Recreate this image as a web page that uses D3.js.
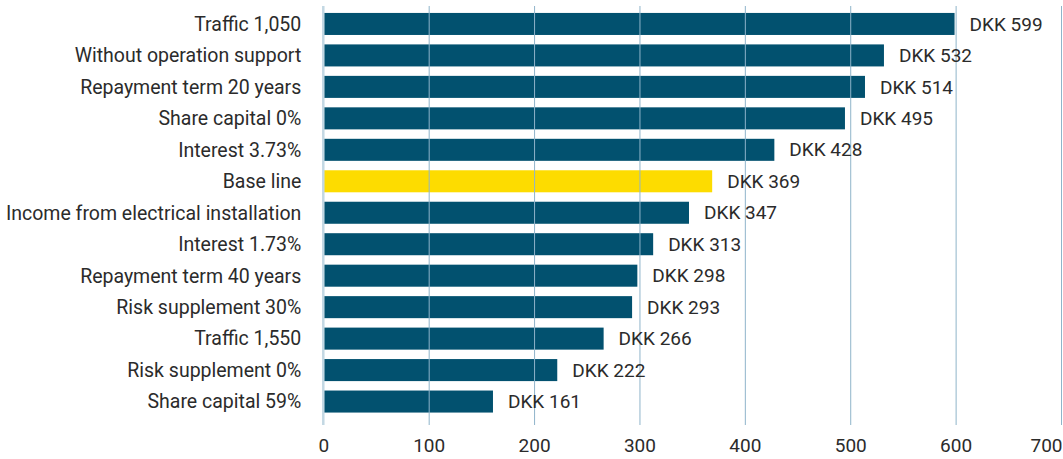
<!DOCTYPE html>
<html>
<head>
<meta charset="utf-8">
<script src="https://cdn.jsdelivr.net/npm/d3@7"></script>
<style>
  body { margin: 0; background: #fff; }
  text { font-family: "Roboto", "DejaVu Sans", sans-serif; }
</style>
</head>
<body>
<div id="app"></div>
<script>
// data
const categories = [
  "Traffic 1,050",
  "Without operation support",
  "Repayment term 20 years",
  "Share capital 0%",
  "Interest 3.73%",
  "Base line",
  "Income from electrical installation",
  "Interest 1.73%",
  "Repayment term 40 years",
  "Risk supplement 30%",
  "Traffic 1,550",
  "Risk supplement 0%",
  "Share capital 59%"
]
const values = [599, 532, 514, 495, 428, 369, 347, 313, 298, 293, 266, 222, 161]
const highlight = "Base line"
const xTicks = [0, 100, 200, 300, 400, 500, 600, 700]

const dataset = categories.map((c, i) => ({ category: c, value: values[i] }))

// dimensions
const width = 1063
const height = 459
const margin = { top: 3.5, right: 2, bottom: 37, left: 323.3 }
const boundedWidth = 1061 - margin.left
const boundedHeight = height - margin.top - margin.bottom

const svg = d3.select("#app").append("svg")
  .attr("width", width)
  .attr("height", height)

const bounds = svg.append("g")
  .attr("transform", `translate(${margin.left},${margin.top})`)

// scales
const xScale = d3.scaleLinear()
  .domain([0, 700])
  .range([0, boundedWidth])

const yScale = d3.scaleBand()
  .domain(categories)
  .range([0, boundedHeight])
  .padding(0.3)

// bars
bounds.append("g")
  .selectAll("rect")
  .data(dataset)
  .join("rect")
    .attr("x", 0)
    .attr("y", d => yScale(d.category))
    .attr("width", d => xScale(d.value))
    .attr("height", yScale.bandwidth())
    .attr("fill", d => d.category === highlight ? "#fddc00" : "#02516f")

// gridlines (drawn on top of bars)
const gridTop = 2.5
const gridBottom = boundedHeight + 3
bounds.append("g")
  .selectAll("line")
  .data(xTicks.filter(t => t > 0))
  .join("line")
    .attr("x1", d => xScale(d) + 0.5)
    .attr("x2", d => xScale(d) + 0.5)
    .attr("y1", gridTop)
    .attr("y2", gridBottom)
    .attr("stroke", "#8fb4ca")
    .attr("stroke-width", 1)

bounds.append("line")
  .attr("x1", xScale(0))
  .attr("x2", xScale(0))
  .attr("y1", gridTop)
  .attr("y2", gridBottom)
  .attr("stroke", "#c3d8e3")
  .attr("stroke-width", 2.5)

// value labels
bounds.append("g")
  .selectAll("text")
  .data(dataset)
  .join("text")
    .attr("x", d => xScale(d.value) + 15)
    .attr("y", d => yScale(d.category) + yScale.bandwidth() / 2)
    .attr("dy", "0.35em")
    .attr("fill", "#2b2b2b")
    .style("font-size", "19px")
    .text(d => `DKK ${d.value}`)

// category labels
bounds.append("g")
  .selectAll("text")
  .data(dataset)
  .join("text")
    .attr("x", -22)
    .attr("y", d => yScale(d.category) + yScale.bandwidth() / 2)
    .attr("dy", "0.35em")
    .attr("text-anchor", "end")
    .attr("fill", "#2b2b2b")
    .style("font-size", "19.5px")
    .text(d => d.category)

// x axis
const xAxis = bounds.append("g")
  .attr("transform", `translate(0,${boundedHeight})`)
  .call(d3.axisBottom(xScale).tickValues(xTicks).tickSize(0).tickPadding(17))

xAxis.select(".domain").remove()
xAxis.selectAll("text")
  .attr("fill", "#2b2b2b")
  .style("font-size", "19px")
  .style("font-family", "Roboto, sans-serif")

// keep the last tick label inside the canvas
xAxis.selectAll(".tick")
  .filter(d => d === 700)
  .select("text")
    .attr("text-anchor", "end")
    .attr("x", 1)
</script>
</body>
</html>
